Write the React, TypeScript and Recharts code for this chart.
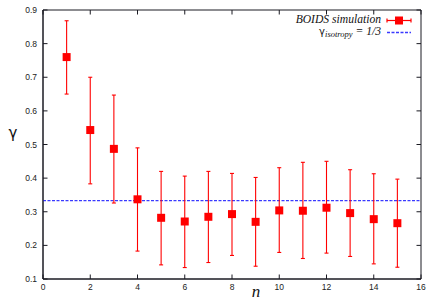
import React from 'react';
import { ComposedChart, Scatter, XAxis, YAxis, ErrorBar, ReferenceLine, Customized } from 'recharts';

const nValues = [1, 2, 3, 4, 5, 6, 7, 8, 9, 10, 11, 12, 13, 14, 15];
const gammaMean = [0.76, 0.543, 0.487, 0.337, 0.282, 0.271, 0.285, 0.293, 0.27, 0.304, 0.303, 0.312, 0.296, 0.278, 0.266];
const gammaLow = [0.65, 0.383, 0.326, 0.183, 0.142, 0.134, 0.149, 0.17, 0.138, 0.179, 0.161, 0.177, 0.167, 0.145, 0.135];
const gammaHigh = [0.868, 0.7, 0.647, 0.49, 0.42, 0.406, 0.42, 0.414, 0.402, 0.431, 0.447, 0.45, 0.425, 0.413, 0.397];
const xTicks = [0, 2, 4, 6, 8, 10, 12, 14, 16];
const yTicks = [0.1, 0.2, 0.3, 0.4, 0.5, 0.6, 0.7, 0.8, 0.9];
const xDomain = [0, 16];
const yDomain = [0.1, 0.9];
const isotropyValue = 1 / 3;
const seriesLabel = 'BOIDS simulation';

const data = nValues.map((n, i) => ({
  n,
  g: gammaMean[i],
  err: [gammaMean[i] - gammaLow[i], gammaHigh[i] - gammaMean[i]],
}));

const FRAME = '#1a1a22';
const RED = '#ff0000';
const BLUE = '#3a3aff';
const tickFont = { fontSize: 8.5, fontFamily: 'Liberation Sans, Arial, sans-serif', fill: '#222' };

const PL = 43, PR = 421, PT = 10, PB = 279, TL = 4.5;
const px = (v: number) => PL + ((v - xDomain[0]) / (xDomain[1] - xDomain[0])) * (PR - PL);
const py = (v: number) => PB - ((v - yDomain[0]) / (yDomain[1] - yDomain[0])) * (PB - PT);

const Overlay = () => (
  <g>
    <path
      d={`M${PL},${PT}H${PR}V${PB}H${PL}Z`}
      fill="none"
      stroke={FRAME}
      strokeWidth={1}
    />
    {xTicks.map((t) => (
      <path key={'x' + t} d={`M${px(t)},${PB}v${-TL}M${px(t)},${PT}v${TL}`} stroke={FRAME} strokeWidth={1} fill="none" />
    ))}
    {yTicks.map((t) => (
      <path key={'y' + t} d={`M${PL},${py(t)}h${TL}M${PR},${py(t)}h${-TL}`} stroke={FRAME} strokeWidth={1} fill="none" />
    ))}
    <text x={13} y={138} fontSize={15} fontFamily="DejaVu Sans, sans-serif" textAnchor="middle" fill="#111">γ</text>
    <text x={256} y={297} fontSize={17} fontStyle="italic" fontFamily="Liberation Serif, serif" textAnchor="middle" fill="#111">n</text>
    <text x={381} y={22.5} fontSize={11.6} fontStyle="italic" fontFamily="Liberation Serif, serif" textAnchor="end" fill="#111">{seriesLabel}</text>
    <line x1={387} y1={20.5} x2={411} y2={20.5} stroke={RED} strokeWidth={1.2} />
    <line x1={387} y1={18.5} x2={387} y2={22.5} stroke={RED} strokeWidth={1.2} />
    <line x1={411} y1={18.5} x2={411} y2={22.5} stroke={RED} strokeWidth={1.2} />
    <rect x={395} y={16.5} width={8} height={8} fill={RED} />
    <text x={381} y={35} fontSize={11.6} fontStyle="italic" fontFamily="Liberation Serif, serif" textAnchor="end" fill="#111">
      <tspan fontStyle="normal" fontFamily="DejaVu Sans, sans-serif" fontSize={10}>γ</tspan>
      <tspan fontSize={8.5} dy={2}>isotropy</tspan>
      <tspan dy={-2}> = 1/3</tspan>
    </text>
    <line x1={387} y1={32.5} x2={411} y2={32.5} stroke={BLUE} strokeWidth={1.3} strokeDasharray="3 1.5" />
  </g>
);

export default function App() {
  return (
    <div style={{ position: 'absolute', left: 0, top: 0 }}>
      <ComposedChart width={436} height={305} data={data} margin={{ top: 10, right: 15, left: 0, bottom: 0 }}>
        <XAxis
          dataKey="n"
          type="number"
          domain={xDomain}
          ticks={xTicks}
          height={26}
          tickSize={0}
          tickMargin={5}
          tick={tickFont}
          axisLine={{ stroke: FRAME }}
          tickLine={false}
        />
        <YAxis
          type="number"
          domain={yDomain}
          ticks={yTicks}
          width={43}
          tickSize={0}
          tickMargin={6}
          tick={tickFont}
          tickFormatter={(v: number) => v.toFixed(1)}
          axisLine={{ stroke: FRAME }}
          tickLine={false}
        />
        <ReferenceLine y={isotropyValue} stroke={BLUE} strokeWidth={1.3} strokeDasharray="3 1.5" />
        <Scatter dataKey="g" fill={RED} shape="square" isAnimationActive={false}>
          <ErrorBar dataKey="err" direction="y" width={2} stroke={RED} strokeWidth={1.1} isAnimationActive={false} />
        </Scatter>
        <Customized component={<Overlay />} />
      </ComposedChart>
    </div>
  );
}
